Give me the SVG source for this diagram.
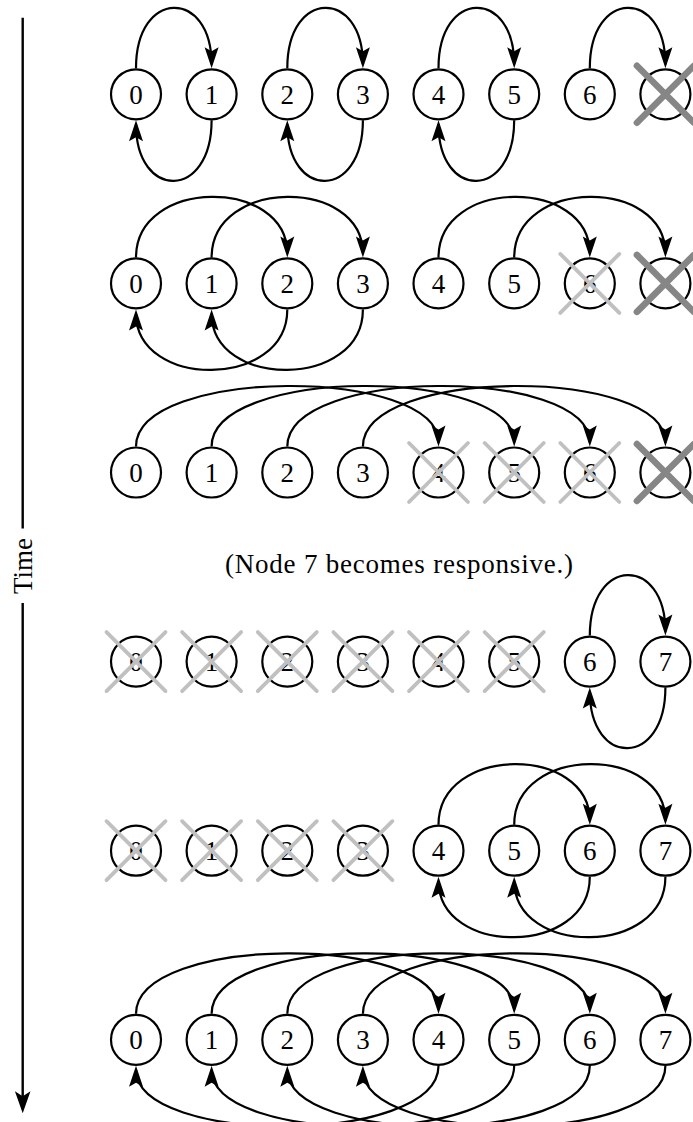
<svg xmlns="http://www.w3.org/2000/svg" width="693" height="1122" viewBox="0 0 693 1122">
  <style>
    .node circle { fill: #ffffff; stroke: #000000; stroke-width: 2.2; }
    .node text, .label { font-family: "Liberation Serif", "Times New Roman", serif; font-size: 27px; fill: #000000; }
    .node text { text-anchor: middle; }
    .edge { fill: none; stroke: #000000; stroke-width: 2.2; marker-end: url(#ah); }
    .xl { stroke: #c0c0c0; stroke-width: 3.8; stroke-linecap: round; }
    .xd { stroke: #868686; stroke-width: 6.5; stroke-linecap: round; }
    .axis { stroke: #000000; stroke-width: 2.4; fill: none; }
  </style>
  <defs>
    <marker id="ah" markerUnits="userSpaceOnUse" viewBox="-25 -10 32 20" markerWidth="32" markerHeight="20" refX="0" refY="0" orient="auto" overflow="visible">
      <path d="M4,0 L-17,-7 L-13,0 L-17,7 Z" fill="#000000"/>
    </marker>
    <marker id="ahT" markerUnits="userSpaceOnUse" viewBox="-25 -10 32 20" markerWidth="32" markerHeight="20" refX="0" refY="0" orient="auto" overflow="visible">
      <path d="M4,0 L-18,-7.8 L-13,0 L-18,7.8 Z" fill="#000000"/>
    </marker>
  </defs>

  <!-- time axis -->
  <g id="time-axis">
    <line class="axis" x1="22.7" y1="17.7" x2="22.7" y2="528.5"/>
    <line class="axis" x1="22.7" y1="603" x2="22.7" y2="1109.3" marker-end="url(#ahT)"/>
    <text class="label" x="32" y="566" text-anchor="middle" transform="rotate(-90 32 566)">Time</text>
  </g>

  <text class="label" id="caption" x="399" y="573.3" text-anchor="middle" textLength="348" lengthAdjust="spacing">(Node 7 becomes responsive.)</text>

  <!-- connectors: top arcs leave a node's top and enter the target's top;
       bottom arcs do the same along the node bottoms -->
  <g id="connectors">
    <!-- row 1 -->
    <path class="edge" d="M136,68.3 C136,-11.7 211.6,-11.7 211.6,64.3"/>
    <path class="edge" d="M287.3,68.3 C287.3,-11.7 362.9,-11.7 362.9,64.3"/>
    <path class="edge" d="M438.5,68.3 C438.5,-11.7 514.2,-11.7 514.2,64.3"/>
    <path class="edge" d="M589.8,68.3 C589.8,-11.7 665.4,-11.7 665.4,64.3"/>
    <path class="edge" d="M211.6,120.3 C211.6,200.3 136,200.3 136,124.3"/>
    <path class="edge" d="M362.9,120.3 C362.9,200.3 287.3,200.3 287.3,124.3"/>
    <path class="edge" d="M514.2,120.3 C514.2,200.3 438.5,200.3 438.5,124.3"/>
    <!-- row 2 -->
    <path class="edge" d="M136,257.4 C136,177.4 287.3,177.4 287.3,253.4"/>
    <path class="edge" d="M211.6,257.4 C211.6,177.4 362.9,177.4 362.9,253.4"/>
    <path class="edge" d="M438.5,257.4 C438.5,177.4 589.8,177.4 589.8,253.4"/>
    <path class="edge" d="M514.2,257.4 C514.2,177.4 665.4,177.4 665.4,253.4"/>
    <path class="edge" d="M287.3,309.4 C287.3,389.4 136,389.4 136,313.4"/>
    <path class="edge" d="M362.9,309.4 C362.9,389.4 211.6,389.4 211.6,313.4"/>
    <!-- row 3 -->
    <path class="edge" d="M136,446.5 C136,366.5 438.5,366.5 438.5,442.5"/>
    <path class="edge" d="M211.6,446.5 C211.6,366.5 514.2,366.5 514.2,442.5"/>
    <path class="edge" d="M287.3,446.5 C287.3,366.5 589.8,366.5 589.8,442.5"/>
    <path class="edge" d="M362.9,446.5 C362.9,366.5 665.4,366.5 665.4,442.5"/>
    <!-- row 4 -->
    <path class="edge" d="M589.8,635.6 C589.8,555.6 665.4,555.6 665.4,631.6"/>
    <path class="edge" d="M665.4,687.6 C665.4,767.6 589.8,767.6 589.8,691.6"/>
    <!-- row 5 -->
    <path class="edge" d="M438.5,824.7 C438.5,744.7 589.8,744.7 589.8,820.7"/>
    <path class="edge" d="M514.2,824.7 C514.2,744.7 665.4,744.7 665.4,820.7"/>
    <path class="edge" d="M589.8,876.7 C589.8,956.7 438.5,956.7 438.5,880.7"/>
    <path class="edge" d="M665.4,876.7 C665.4,956.7 514.2,956.7 514.2,880.7"/>
    <!-- row 6 -->
    <path class="edge" d="M136,1013.8 C136,933.8 438.5,933.8 438.5,1009.8"/>
    <path class="edge" d="M211.6,1013.8 C211.6,933.8 514.2,933.8 514.2,1009.8"/>
    <path class="edge" d="M287.3,1013.8 C287.3,933.8 589.8,933.8 589.8,1009.8"/>
    <path class="edge" d="M362.9,1013.8 C362.9,933.8 665.4,933.8 665.4,1009.8"/>
    <path class="edge" d="M438.5,1065.8 C438.5,1145.8 136,1145.8 136,1069.8"/>
    <path class="edge" d="M514.2,1065.8 C514.2,1145.8 211.6,1145.8 211.6,1069.8"/>
    <path class="edge" d="M589.8,1065.8 C589.8,1145.8 287.3,1145.8 287.3,1069.8"/>
    <path class="edge" d="M665.4,1065.8 C665.4,1145.8 362.9,1145.8 362.9,1069.8"/>
  </g>

  <!-- row 1 -->
  <g id="r1-n0" class="node" transform="translate(136 94.3)"><circle r="25"/><text y="9.5">0</text></g>
  <g id="r1-n1" class="node" transform="translate(211.6 94.3)"><circle r="25"/><text y="9.5">1</text></g>
  <g id="r1-n2" class="node" transform="translate(287.3 94.3)"><circle r="25"/><text y="9.5">2</text></g>
  <g id="r1-n3" class="node" transform="translate(362.9 94.3)"><circle r="25"/><text y="9.5">3</text></g>
  <g id="r1-n4" class="node" transform="translate(438.5 94.3)"><circle r="25"/><text y="9.5">4</text></g>
  <g id="r1-n5" class="node" transform="translate(514.2 94.3)"><circle r="25"/><text y="9.5">5</text></g>
  <g id="r1-n6" class="node" transform="translate(589.8 94.3)"><circle r="25"/><text y="9.5">6</text></g>
  <g id="r1-n7" class="node" transform="translate(665.4 94.3)"><circle r="25"/><path class="xd" d="M-28.5,-28.5 L28.5,28.5 M28.5,-28.5 L-28.5,28.5"/></g>

  <!-- row 2 -->
  <g id="r2-n0" class="node" transform="translate(136 283.4)"><circle r="25"/><text y="9.5">0</text></g>
  <g id="r2-n1" class="node" transform="translate(211.6 283.4)"><circle r="25"/><text y="9.5">1</text></g>
  <g id="r2-n2" class="node" transform="translate(287.3 283.4)"><circle r="25"/><text y="9.5">2</text></g>
  <g id="r2-n3" class="node" transform="translate(362.9 283.4)"><circle r="25"/><text y="9.5">3</text></g>
  <g id="r2-n4" class="node" transform="translate(438.5 283.4)"><circle r="25"/><text y="9.5">4</text></g>
  <g id="r2-n5" class="node" transform="translate(514.2 283.4)"><circle r="25"/><text y="9.5">5</text></g>
  <g id="r2-n6" class="node" transform="translate(589.8 283.4)"><circle r="25"/><text y="9.5">6</text><path class="xl" d="M-29.5,-29.5 L29.5,29.5 M29.5,-29.5 L-29.5,29.5"/></g>
  <g id="r2-n7" class="node" transform="translate(665.4 283.4)"><circle r="25"/><path class="xd" d="M-28.5,-28.5 L28.5,28.5 M28.5,-28.5 L-28.5,28.5"/></g>

  <!-- row 3 -->
  <g id="r3-n0" class="node" transform="translate(136 472.5)"><circle r="25"/><text y="9.5">0</text></g>
  <g id="r3-n1" class="node" transform="translate(211.6 472.5)"><circle r="25"/><text y="9.5">1</text></g>
  <g id="r3-n2" class="node" transform="translate(287.3 472.5)"><circle r="25"/><text y="9.5">2</text></g>
  <g id="r3-n3" class="node" transform="translate(362.9 472.5)"><circle r="25"/><text y="9.5">3</text></g>
  <g id="r3-n4" class="node" transform="translate(438.5 472.5)"><circle r="25"/><text y="9.5">4</text><path class="xl" d="M-29.5,-29.5 L29.5,29.5 M29.5,-29.5 L-29.5,29.5"/></g>
  <g id="r3-n5" class="node" transform="translate(514.2 472.5)"><circle r="25"/><text y="9.5">5</text><path class="xl" d="M-29.5,-29.5 L29.5,29.5 M29.5,-29.5 L-29.5,29.5"/></g>
  <g id="r3-n6" class="node" transform="translate(589.8 472.5)"><circle r="25"/><text y="9.5">6</text><path class="xl" d="M-29.5,-29.5 L29.5,29.5 M29.5,-29.5 L-29.5,29.5"/></g>
  <g id="r3-n7" class="node" transform="translate(665.4 472.5)"><circle r="25"/><path class="xd" d="M-28.5,-28.5 L28.5,28.5 M28.5,-28.5 L-28.5,28.5"/></g>

  <!-- row 4 -->
  <g id="r4-n0" class="node" transform="translate(136 661.6)"><circle r="25"/><text y="9.5">0</text><path class="xl" d="M-29.5,-29.5 L29.5,29.5 M29.5,-29.5 L-29.5,29.5"/></g>
  <g id="r4-n1" class="node" transform="translate(211.6 661.6)"><circle r="25"/><text y="9.5">1</text><path class="xl" d="M-29.5,-29.5 L29.5,29.5 M29.5,-29.5 L-29.5,29.5"/></g>
  <g id="r4-n2" class="node" transform="translate(287.3 661.6)"><circle r="25"/><text y="9.5">2</text><path class="xl" d="M-29.5,-29.5 L29.5,29.5 M29.5,-29.5 L-29.5,29.5"/></g>
  <g id="r4-n3" class="node" transform="translate(362.9 661.6)"><circle r="25"/><text y="9.5">3</text><path class="xl" d="M-29.5,-29.5 L29.5,29.5 M29.5,-29.5 L-29.5,29.5"/></g>
  <g id="r4-n4" class="node" transform="translate(438.5 661.6)"><circle r="25"/><text y="9.5">4</text><path class="xl" d="M-29.5,-29.5 L29.5,29.5 M29.5,-29.5 L-29.5,29.5"/></g>
  <g id="r4-n5" class="node" transform="translate(514.2 661.6)"><circle r="25"/><text y="9.5">5</text><path class="xl" d="M-29.5,-29.5 L29.5,29.5 M29.5,-29.5 L-29.5,29.5"/></g>
  <g id="r4-n6" class="node" transform="translate(589.8 661.6)"><circle r="25"/><text y="9.5">6</text></g>
  <g id="r4-n7" class="node" transform="translate(665.4 661.6)"><circle r="25"/><text y="9.5">7</text></g>

  <!-- row 5 -->
  <g id="r5-n0" class="node" transform="translate(136 850.7)"><circle r="25"/><text y="9.5">0</text><path class="xl" d="M-29.5,-29.5 L29.5,29.5 M29.5,-29.5 L-29.5,29.5"/></g>
  <g id="r5-n1" class="node" transform="translate(211.6 850.7)"><circle r="25"/><text y="9.5">1</text><path class="xl" d="M-29.5,-29.5 L29.5,29.5 M29.5,-29.5 L-29.5,29.5"/></g>
  <g id="r5-n2" class="node" transform="translate(287.3 850.7)"><circle r="25"/><text y="9.5">2</text><path class="xl" d="M-29.5,-29.5 L29.5,29.5 M29.5,-29.5 L-29.5,29.5"/></g>
  <g id="r5-n3" class="node" transform="translate(362.9 850.7)"><circle r="25"/><text y="9.5">3</text><path class="xl" d="M-29.5,-29.5 L29.5,29.5 M29.5,-29.5 L-29.5,29.5"/></g>
  <g id="r5-n4" class="node" transform="translate(438.5 850.7)"><circle r="25"/><text y="9.5">4</text></g>
  <g id="r5-n5" class="node" transform="translate(514.2 850.7)"><circle r="25"/><text y="9.5">5</text></g>
  <g id="r5-n6" class="node" transform="translate(589.8 850.7)"><circle r="25"/><text y="9.5">6</text></g>
  <g id="r5-n7" class="node" transform="translate(665.4 850.7)"><circle r="25"/><text y="9.5">7</text></g>

  <!-- row 6 -->
  <g id="r6-n0" class="node" transform="translate(136 1039.8)"><circle r="25"/><text y="9.5">0</text></g>
  <g id="r6-n1" class="node" transform="translate(211.6 1039.8)"><circle r="25"/><text y="9.5">1</text></g>
  <g id="r6-n2" class="node" transform="translate(287.3 1039.8)"><circle r="25"/><text y="9.5">2</text></g>
  <g id="r6-n3" class="node" transform="translate(362.9 1039.8)"><circle r="25"/><text y="9.5">3</text></g>
  <g id="r6-n4" class="node" transform="translate(438.5 1039.8)"><circle r="25"/><text y="9.5">4</text></g>
  <g id="r6-n5" class="node" transform="translate(514.2 1039.8)"><circle r="25"/><text y="9.5">5</text></g>
  <g id="r6-n6" class="node" transform="translate(589.8 1039.8)"><circle r="25"/><text y="9.5">6</text></g>
  <g id="r6-n7" class="node" transform="translate(665.4 1039.8)"><circle r="25"/><text y="9.5">7</text></g>
</svg>
